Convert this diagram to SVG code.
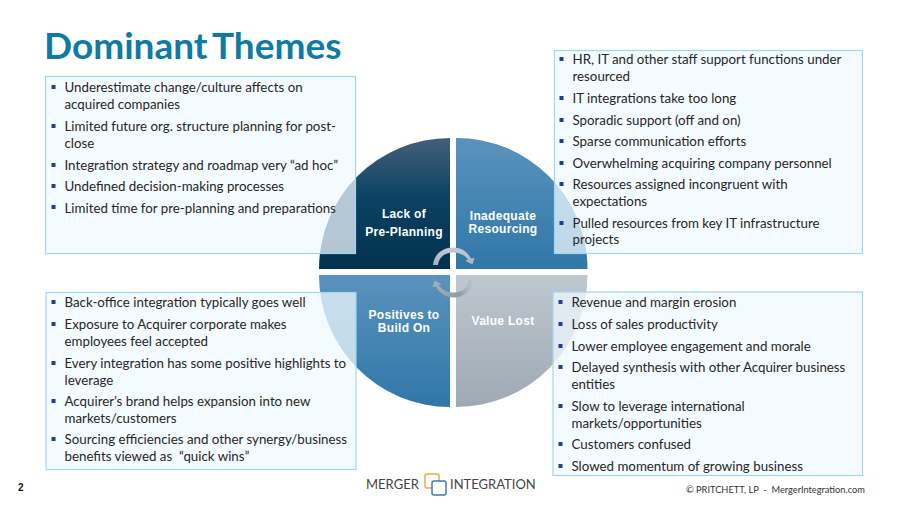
<svg xmlns="http://www.w3.org/2000/svg" width="900" height="506" viewBox="0 0 900 506">
<style>
.t{font-family:Lato,"Open Sans",sans-serif;font-size:13.3px;fill:#262626;white-space:pre}
.b{fill:#f0faff;fill-opacity:.74;stroke:#a2d5f0;stroke-width:1.2}
.q{font-family:"Liberation Sans",Arial,sans-serif;font-size:12px;font-weight:700;fill:#fff;text-anchor:middle;letter-spacing:.3px}
.bu{fill:#1f3d9e}
</style>
<defs>
<linearGradient id="g1" x1="0" y1="0" x2="0" y2="1"><stop offset="0" stop-color="#44607a"/><stop offset=".45" stop-color="#0c4263"/><stop offset="1" stop-color="#03324f"/></linearGradient>
<linearGradient id="g2" x1="0" y1="0" x2="0" y2="1"><stop offset="0" stop-color="#5a93bd"/><stop offset="1" stop-color="#2f77a8"/></linearGradient>
<linearGradient id="g3" x1="0" y1="0" x2="0" y2="1"><stop offset="0" stop-color="#bfc7cf"/><stop offset="1" stop-color="#9ea9b3"/></linearGradient>
<linearGradient id="arcA" x1="0" y1="0" x2="0" y2="1"><stop offset="0" stop-color="#c3ccd4"/><stop offset="1" stop-color="#a4b1bc"/></linearGradient>
<linearGradient id="arcB" x1="0" y1="0" x2="1" y2="0"><stop offset="0" stop-color="#a0adb8" stop-opacity="0"/><stop offset=".35" stop-color="#8f9ca8"/><stop offset="1" stop-color="#a3afba"/></linearGradient>
</defs>
<rect width="900" height="506" fill="#fff"/>
<text x="44" y="59" font-family="Lato,sans-serif" font-size="37px" font-weight="700" fill="#0f7ba3" word-spacing="-3.500">Dominant Themes</text>
<g id="q-lack"><path d="M450 269V138A131 131 0 0 0 319 269Z" fill="url(#g1)"/></g>
<g id="q-inadequate"><path d="M456 269V138A131 131 0 0 1 587.500 269Z" fill="url(#g2)"/></g>
<g id="q-positives"><path d="M450 275V407A131 132 0 0 1 319 275Z" fill="url(#g2)"/></g>
<g id="q-value"><path d="M456 275V407A131 132 0 0 0 587.500 275Z" fill="url(#g3)"/></g>
<g id="connectors">
<path d="M433 265C434 254 443 247.500 453 247.500C461 247.500 468 252 471 258.500L474.500 258L472.500 264.500L465.500 261L468 259.500C465 255 459 252.500 453 252.500C445 252.500 439 257 438 265Z" fill="url(#arcA)"/>
<path transform="rotate(180 453.500 272.500)" d="M433 265C434 254 443 247.500 453 247.500C461 247.500 468 252 471 258.500L474.500 258L472.500 264.500L465.500 261L468 259.500C465 255 459 252.500 453 252.500C445 252.500 439 257 438 265Z" fill="url(#arcB)"/>
</g>
<g id="box-tl"><rect class="b" x="45.500" y="76.500" width="310" height="177"/>
<rect class="bu" x="51.500" y="85" width="4" height="4"/><rect class="bu" x="51.500" y="124" width="4" height="4"/><rect class="bu" x="51.500" y="163" width="4" height="4"/><rect class="bu" x="51.500" y="184" width="4" height="4"/><rect class="bu" x="51.500" y="205" width="4" height="4"/>
<text class="t" x="64.500" y="92">Underestimate change/culture affects on</text>
<text class="t" x="64.500" y="109">acquired companies</text>
<text class="t" x="64.500" y="131">Limited future org. structure planning for post-</text>
<text class="t" x="64.500" y="148">close</text>
<text class="t" x="64.500" y="170">Integration strategy and roadmap very “ad hoc”</text>
<text class="t" x="64.500" y="191">Undefined decision-making processes</text>
<text class="t" x="64.500" y="213">Limited time for pre-planning and preparations</text>
</g>
<g id="box-tr"><rect class="b" x="554.500" y="50.500" width="308" height="203"/>
<rect class="bu" x="559.500" y="57" width="4" height="4"/><rect class="bu" x="559.500" y="96" width="4" height="4"/><rect class="bu" x="559.500" y="118" width="4" height="4"/><rect class="bu" x="559.500" y="139" width="4" height="4"/><rect class="bu" x="559.500" y="161" width="4" height="4"/><rect class="bu" x="559.500" y="182" width="4" height="4"/><rect class="bu" x="559.500" y="221" width="4" height="4"/>
<text class="t" x="572.500" y="64">HR, IT and other staff support functions under</text>
<text class="t" x="572.500" y="81">resourced</text>
<text class="t" x="572.500" y="103">IT integrations take too long</text>
<text class="t" x="572.500" y="125">Sporadic support (off and on)</text>
<text class="t" x="572.500" y="146">Sparse communication efforts</text>
<text class="t" x="572.500" y="168">Overwhelming acquiring company personnel</text>
<text class="t" x="572.500" y="189">Resources assigned incongruent with</text>
<text class="t" x="572.500" y="206">expectations</text>
<text class="t" x="572.500" y="228">Pulled resources from key IT infrastructure</text>
<text class="t" x="572.500" y="244">projects</text>
</g>
<g id="box-bl"><rect class="b" x="46" y="292.500" width="310" height="177"/>
<rect class="bu" x="51.500" y="300" width="4" height="4"/><rect class="bu" x="51.500" y="322" width="4" height="4"/><rect class="bu" x="51.500" y="361" width="4" height="4"/><rect class="bu" x="51.500" y="399" width="4" height="4"/><rect class="bu" x="51.500" y="437" width="4" height="4"/>
<text class="t" x="64.500" y="307">Back-office integration typically goes well</text>
<text class="t" x="64.500" y="329">Exposure to Acquirer corporate makes</text>
<text class="t" x="64.500" y="346">employees feel accepted</text>
<text class="t" x="64.500" y="368">Every integration has some positive highlights to</text>
<text class="t" x="64.500" y="385">leverage</text>
<text class="t" x="64.500" y="406">Acquirer’s brand helps expansion into new</text>
<text class="t" x="64.500" y="423">markets/customers</text>
<text class="t" x="64.500" y="444">Sourcing efficiencies and other synergy/business</text>
<text class="t" x="64.500" y="461">benefits viewed as  “quick wins”</text>
</g>
<g id="box-br"><rect class="b" x="553" y="292" width="309.500" height="183.500"/>
<rect class="bu" x="558.500" y="300" width="4" height="4"/><rect class="bu" x="558.500" y="322" width="4" height="4"/><rect class="bu" x="558.500" y="344" width="4" height="4"/><rect class="bu" x="558.500" y="365" width="4" height="4"/><rect class="bu" x="558.500" y="404" width="4" height="4"/><rect class="bu" x="558.500" y="442" width="4" height="4"/><rect class="bu" x="558.500" y="464" width="4" height="4"/>
<text class="t" x="571.500" y="307">Revenue and margin erosion</text>
<text class="t" x="571.500" y="329">Loss of sales productivity</text>
<text class="t" x="571.500" y="351">Lower employee engagement and morale</text>
<text class="t" x="571.500" y="372">Delayed synthesis with other Acquirer business</text>
<text class="t" x="571.500" y="389">entities</text>
<text class="t" x="571.500" y="411">Slow to leverage international</text>
<text class="t" x="571.500" y="428">markets/opportunities</text>
<text class="t" x="571.500" y="449">Customers confused</text>
<text class="t" x="571.500" y="471">Slowed momentum of growing business</text>
</g>
<text class="q" x="404" y="218">Lack of</text>
<text class="q" x="404" y="236">Pre-Planning</text>
<text class="q" x="503" y="220">Inadequate</text>
<text class="q" x="503" y="233">Resourcing</text>
<text class="q" x="404" y="319">Positives to</text>
<text class="q" x="404" y="332">Build On</text>
<text class="q" x="503" y="325">Value Lost</text>
<g id="footer">
<text x="18" y="491" font-family="Liberation Sans,sans-serif" font-size="10px" font-weight="700" fill="#111">2</text>
<text x="366" y="489" font-family="Lato,sans-serif" font-size="13px" fill="#444">MERGER</text>
<text x="450" y="488.500" font-family="Lato,sans-serif" font-size="13px" fill="#444">INTEGRATION</text>
<rect x="425" y="474" width="14" height="14" rx="2" fill="none" stroke="#f0a94a" stroke-width="1.500"/>
<rect x="432" y="481" width="14" height="14" rx="2" fill="#fff" stroke="#3d7cab" stroke-width="1.500"/>
<text x="686" y="493" font-family="Lato,sans-serif" font-size="9.250px" fill="#333" style="white-space:pre">© PRITCHETT, LP  -  MergerIntegration.com</text>
</g>
</svg>
